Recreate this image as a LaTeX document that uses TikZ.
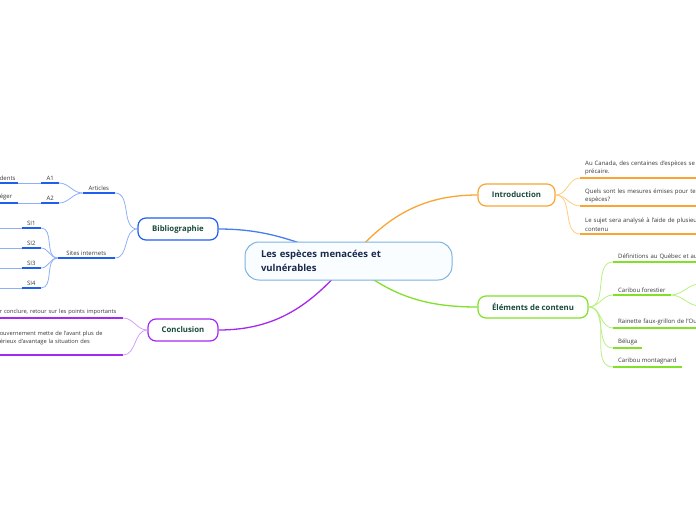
\documentclass[tikz,border=0pt]{standalone}
\usepackage{fontspec}
\setmainfont{Open Sans}
\usetikzlibrary{positioning, backgrounds}
\definecolor{RootLine}{RGB}{125, 178, 225}
\definecolor{RootFill}{RGB}{250, 253, 255}
\definecolor{RootText}{RGB}{25, 40, 75}
\definecolor{TopicText}{RGB}{25, 75, 60}
\definecolor{LeafText}{RGB}{55, 55, 55}
\definecolor{BlueMain}{RGB}{70, 125, 240}
\definecolor{BlueDark}{RGB}{30, 95, 240}
\definecolor{BlueLight}{RGB}{140, 175, 248}
\definecolor{OrangeMain}{RGB}{248, 165, 50}
\definecolor{OrangeLight}{RGB}{255, 205, 130}
\definecolor{GreenMain}{RGB}{128, 225, 40}
\definecolor{GreenLight}{RGB}{185, 240, 130}
\definecolor{PurpleMain}{RGB}{165, 40, 240}
\definecolor{PurpleLight}{RGB}{215, 160, 248}

\begin{document}
\begin{tikzpicture}[
        x=1pt, y=1pt,
        % Sujet central
        box_root/.style={draw=RootLine, fill=RootFill, line width=1pt, rounded corners=14pt, text width=175pt, align=left, inner xsep=16pt, minimum height=38pt, font=\bfseries\fontsize{9.5}{13.5}\selectfont, text=RootText},
        % Branches principales
        box_topic/.style={fill=white, line width=1.2pt, rounded corners=8pt, minimum height=22pt, inner sep=2pt, font=\bfseries\fontsize{7.8}{9}\selectfont, text=TopicText},
        % Feuilles (texte souligne)
        leaf/.style={font=\fontsize{6}{8.5}\selectfont, text=LeafText, inner xsep=5pt, inner ysep=2.5pt},
        leaf_right/.style={leaf, anchor=south west, text width=#1, align=left},
        tag_right/.style={leaf, anchor=south west, minimum width=#1},
        leaf_left/.style={leaf, anchor=south east, text width=#1, align=left},
        tag_left/.style={leaf, anchor=south east, minimum width=#1},
        % Liens et soulignements
        link/.style={line width=0.8pt},
        ul/.style={line width=1.7pt},
        root_link/.style={line width=1.3pt}
    ]
    \useasboundingbox (0,0) rectangle (696,-520);
    \clip (0,0) rectangle (696,-520);

    % --- CENTRE ---
    \node[box_root] (root) at (348.5,-261) {Les espèces menacées et\\vulnérables};

    % --- BRANCHES ---
    \node[box_topic, draw=OrangeMain, minimum width=77pt] (intro) at (516.5,-195) {Introduction};
    \node[box_topic, draw=GreenMain, minimum width=110pt] (elem) at (533,-307) {Éléments de contenu};
    \node[box_topic, draw=BlueDark, minimum width=80pt] (biblio) at (178,-229) {Bibliographie};
    \node[box_topic, draw=PurpleMain, minimum width=70pt] (concl) at (183,-330) {Conclusion};

    % --- INTRODUCTION ---
    \node[leaf_right=150pt] (intro_a) at (580,-178) {Au Canada, des centaines d'espèces se\\précaire.};
    \node[leaf_right=150pt] (intro_b) at (580,-206) {Quels sont les mesures émises pour ten\\espèces?};
    \node[leaf_right=150pt] (intro_c) at (580,-234) {Le sujet sera analysé à l'aide de plusieu\\contenu};

    % --- ELEMENTS DE CONTENU ---
    \node[leaf_right=100pt] (elem_a) at (613,-262) {Définitions au Québec et au};
    \node[tag_right=57pt] (elem_b) at (613,-295) {Caribou forestier};
    \node[leaf_right=100pt] (elem_c) at (613,-328) {Rainette faux-grillon de l'Ou};
    \node[tag_right=29pt] (elem_d) at (613,-348) {Béluga};
    \node[tag_right=68pt] (elem_e) at (613,-367) {Caribou montagnard};
    \coordinate (caribou_a) at (700,-284);
    \coordinate (caribou_b) at (700,-306);

    % --- BIBLIOGRAPHIE ---
    \node[tag_left=32pt] (articles) at (115,-193) {Articles};
    \node[tag_left=57pt] (sites) at (115,-258) {Sites internets};
    \node[tag_left=16pt] (art_a) at (59,-183) {A1};
    \node[tag_left=16pt] (art_b) at (59,-203) {A2};
    \node[leaf_left=13pt] (art_a_src) at (18,-183) {dents};
    \node[leaf_left=13pt] (art_b_src) at (18,-203) {éger};
    \node[tag_left=19pt] (site_a) at (41,-228) {SI1};
    \node[tag_left=19pt] (site_b) at (41,-248) {SI2};
    \node[tag_left=19pt] (site_c) at (41,-268) {SI3};
    \node[tag_left=19pt] (site_d) at (41,-288) {SI4};
    \coordinate (site_a_end) at (-5,-228);
    \coordinate (site_b_end) at (-5,-248);
    \coordinate (site_c_end) at (-5,-268);
    \coordinate (site_d_end) at (-5,-288);

    % --- CONCLUSION ---
    \node[leaf_left=118pt, font=\fontsize{5.7}{8.5}\selectfont] (concl_a) at (123,-318) {\mbox{r conclure, retour sur les points importants}};
    \node[leaf_left=118pt, font=\fontsize{5.7}{8.5}\selectfont] (concl_b) at (123,-355) {ouvernement mette de l'avant plus de\\érieux d'avantage la situation des\\\mbox{}};

    % --- LIENS ---
    \draw[link, OrangeLight] (intro.east) to[out=0, in=180] (intro_a.south west);
    \draw[link, OrangeLight] (intro.east) to[out=0, in=180] (intro_b.south west);
    \draw[link, OrangeLight] (intro.east) to[out=0, in=180] (intro_c.south west);
    \draw[link, GreenLight] (elem.east) to[out=0, in=180] (elem_a.south west);
    \draw[link, GreenLight] (elem.east) to[out=0, in=180] (elem_b.south west);
    \draw[link, GreenLight] (elem.east) to[out=0, in=180] (elem_c.south west);
    \draw[link, GreenLight] (elem.east) to[out=0, in=180] (elem_d.south west);
    \draw[link, GreenLight] (elem.east) to[out=0, in=180] (elem_e.south west);
    \draw[link, GreenLight] (elem_b.south east) to[out=0, in=180] (caribou_a);
    \draw[link, GreenLight] (elem_b.south east) to[out=0, in=180] (caribou_b);
    \draw[link, BlueLight] (biblio.west) to[out=180, in=0] (articles.south east);
    \draw[link, BlueLight] (biblio.west) to[out=180, in=0] (sites.south east);
    \draw[link, BlueLight] (articles.south west) to[out=180, in=0] (art_a.south east);
    \draw[link, BlueLight] (articles.south west) to[out=180, in=0] (art_b.south east);
    \draw[link, BlueLight] (art_a.south west) -- (art_a_src.south east);
    \draw[link, BlueLight] (art_b.south west) -- (art_b_src.south east);
    \draw[link, BlueLight] (sites.south west) to[out=180, in=0] (site_a.south east);
    \draw[link, BlueLight] (sites.south west) to[out=180, in=0] (site_b.south east);
    \draw[link, BlueLight] (sites.south west) to[out=180, in=0] (site_c.south east);
    \draw[link, BlueLight] (sites.south west) to[out=180, in=0] (site_d.south east);
    \draw[link, BlueLight] (site_a.south west) -- (site_a_end);
    \draw[link, BlueLight] (site_b.south west) -- (site_b_end);
    \draw[link, BlueLight] (site_c.south west) -- (site_c_end);
    \draw[link, BlueLight] (site_d.south west) -- (site_d_end);
    \draw[link, PurpleLight] (concl.west) to[out=180, in=0] (concl_a.south east);
    \draw[link, PurpleLight] (concl.west) to[out=180, in=0] (concl_b.south east);

    % --- SOULIGNEMENTS ---
    \draw[ul, OrangeMain] (intro_a.south west) -- (intro_a.south east);
    \draw[ul, OrangeMain] (intro_b.south west) -- (intro_b.south east);
    \draw[ul, OrangeMain] (intro_c.south west) -- (intro_c.south east);
    \draw[ul, GreenMain] (elem_a.south west) -- (elem_a.south east);
    \draw[ul, GreenMain] (elem_b.south west) -- (elem_b.south east);
    \draw[ul, GreenMain] (elem_c.south west) -- (elem_c.south east);
    \draw[ul, GreenMain] (elem_d.south west) -- (elem_d.south east);
    \draw[ul, GreenMain] (elem_e.south west) -- (elem_e.south east);
    \draw[ul, BlueDark] (articles.south west) -- (articles.south east);
    \draw[ul, BlueDark] (sites.south west) -- (sites.south east);
    \draw[ul, BlueDark] (art_a.south west) -- (art_a.south east);
    \draw[ul, BlueDark] (art_b.south west) -- (art_b.south east);
    \draw[ul, BlueDark] (art_a_src.south west) -- (art_a_src.south east);
    \draw[ul, BlueDark] (art_b_src.south west) -- (art_b_src.south east);
    \draw[ul, BlueDark] (site_a.south west) -- (site_a.south east);
    \draw[ul, BlueDark] (site_b.south west) -- (site_b.south east);
    \draw[ul, BlueDark] (site_c.south west) -- (site_c.south east);
    \draw[ul, BlueDark] (site_d.south west) -- (site_d.south east);
    \draw[ul, PurpleMain] (concl_a.south west) -- (concl_a.south east);
    \draw[ul, PurpleMain] (concl_b.south west) -- (concl_b.south east);

    % --- LIENS VERS LE CENTRE (ARRIERE-PLAN) ---
    \begin{scope}[on background layer]
        \draw[root_link, BlueMain] (biblio.east) to[out=0, in=160] (root.center);
        \draw[root_link, OrangeMain] (intro.west) to[out=180, in=50] (root.center);
        \draw[root_link, GreenMain] (elem.west) to[out=180, in=-40] (root.center);
        \draw[root_link, PurpleMain] (concl.east) to[out=0, in=-130] (root.center);
    \end{scope}

    \end{tikzpicture}
\end{document}
